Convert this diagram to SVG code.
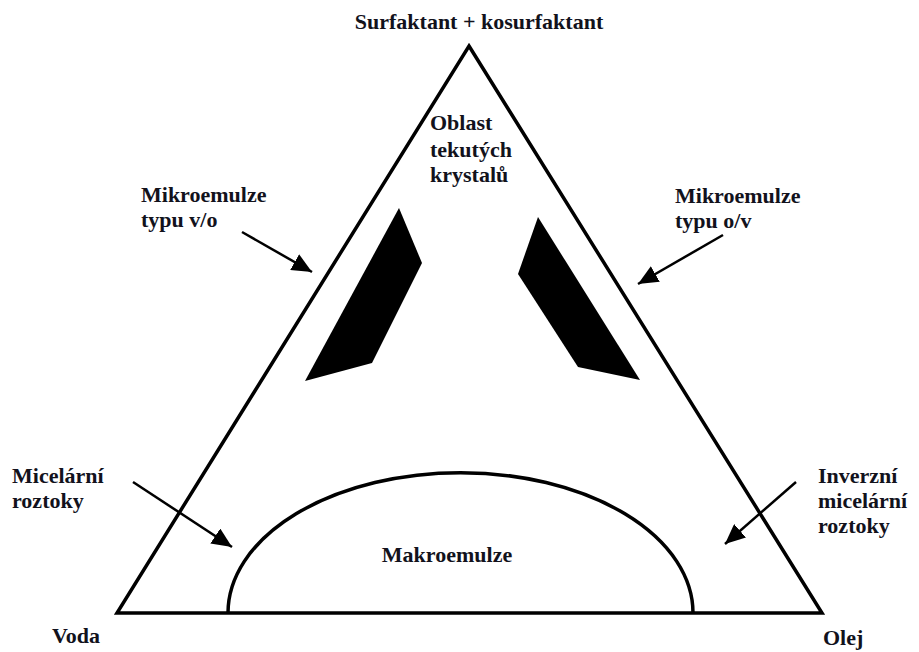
<svg xmlns="http://www.w3.org/2000/svg" width="919" height="652" viewBox="0 0 919 652">
<style>
text{font-family:"Liberation Serif","Times New Roman",serif;font-weight:bold;font-size:22px;fill:#12121c}
.ln{fill:none;stroke:#000;stroke-width:3.5;stroke-linejoin:miter}
.ar{fill:none;stroke:#000;stroke-width:2.5}
.blk{fill:#000}
</style>
<defs>
<marker id="ah" markerUnits="userSpaceOnUse" markerWidth="22" markerHeight="18" refX="20" refY="9" orient="auto">
<path d="M0,0 L20,9 L0,18 Z" fill="#000"/>
</marker>
</defs>
<rect width="919" height="652" fill="#fff"/>
<g id="triangle">
<path class="ln" d="M469 46 L822 613 L117 613 Z"/>
</g>
<g id="makroemulze">
<path class="ln" d="M228 613 A232 140 0 0 1 693 613"/>
<text x="447" y="562" text-anchor="middle">Makroemulze</text>
</g>
<g id="mikro-vo-region">
<polygon class="blk" points="399,208 422,263 372,363 305,381"/>
</g>
<g id="mikro-ov-region">
<polygon class="blk" points="538,217 518,274 578,367 640,380"/>
</g>
<g id="label-top"><text x="479" y="29" text-anchor="middle">Surfaktant + kosurfaktant</text></g>
<g id="label-oblast">
<text x="430" y="130">Oblast</text>
<text x="430" y="157">tekutých</text>
<text x="430" y="182">krystalů</text>
</g>
<g id="label-vo">
<text x="141" y="202">Mikroemulze</text>
<text x="141" y="227">typu v/o</text>
</g>
<g id="label-ov">
<text x="675" y="203">Mikroemulze</text>
<text x="675" y="228">typu o/v</text>
</g>
<g id="label-micel">
<text x="12" y="483">Micelární</text>
<text x="12" y="508">roztoky</text>
</g>
<g id="label-inv">
<text x="818" y="483">Inverzní</text>
<text x="818" y="508">micelární</text>
<text x="818" y="533">roztoky</text>
</g>
<g id="label-voda"><text x="52" y="643">Voda</text></g>
<g id="label-olej"><text x="823" y="645">Olej</text></g>
<g id="connectors">
<line class="ar" x1="242" y1="232" x2="312" y2="272" marker-end="url(#ah)"/>
<line class="ar" x1="723" y1="235" x2="638" y2="284" marker-end="url(#ah)"/>
<line class="ar" x1="133" y1="482" x2="232" y2="547" marker-end="url(#ah)"/>
<line class="ar" x1="796" y1="482" x2="725" y2="544" marker-end="url(#ah)"/>
</g>
</svg>
